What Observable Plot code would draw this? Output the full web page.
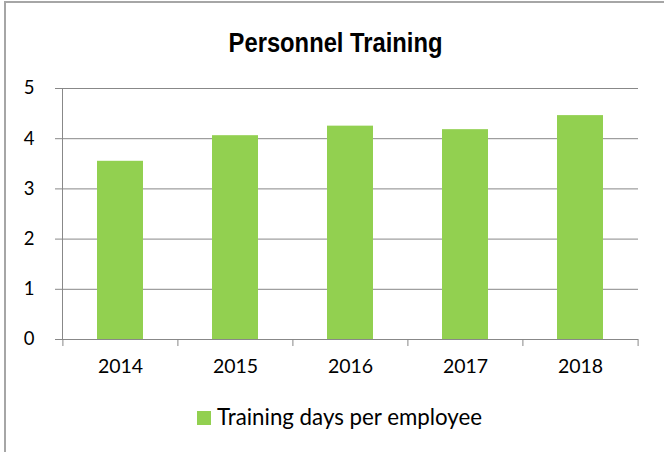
<!DOCTYPE html>
<html>
<head>
<meta charset="utf-8">
<script src="https://cdn.jsdelivr.net/npm/d3@7"></script>
<script src="https://cdn.jsdelivr.net/npm/@observablehq/plot@0.6"></script>
<style>
  html, body { margin: 0; padding: 0; background: #fff; }
  #wrap { position: relative; width: 664px; height: 452px; overflow: hidden; background: #fff; }
  #border { position: absolute; left: 4px; top: 1px; width: 700px; height: 500px;
            border-left: 2px solid #a6a6a6; border-top: 2px solid #a6a6a6; box-sizing: border-box; }
  #title { position: absolute; left: 0; width: 664px; top: 26px; text-align: center;
           font-family: "Liberation Sans", Arial, sans-serif; font-weight: bold; font-size: 27px;
           line-height: 34px; color: #000; }
  #title span { display: inline-block; transform: scaleX(0.88); transform-origin: center; margin-left: 8px; }
  #chart { position: absolute; left: 0; top: 0; }
  #legend { position: absolute; top: 402px; left: 197px; font-family: Lato, sans-serif;
            font-size: 22.3px; line-height: 30px; color: #000; white-space: nowrap; }
  #legend .sw { display: inline-block; width: 14px; height: 14px; background: #92D050;
                vertical-align: middle; margin-right: 6px; position: relative; top: -1px; }
</style>
</head>
<body>
<div id="wrap">
  <div id="border"></div>
  <div id="chart"></div>
  <div id="title"><span>Personnel Training</span></div>
  <div id="legend"><span class="sw"></span>Training days per employee</div>
</div>
<script>
const years = ["2014", "2015", "2016", "2017", "2018"];
const trainingDays = [3.55, 4.06, 4.25, 4.18, 4.46];
const yTicks = [0, 1, 2, 3, 4, 5];
const seriesName = "Training days per employee";

const data = years.map((y, i) => ({year: y, value: trainingDays[i]}));

const W = 664, H = 452;
const mL = 62, mR = 26, mT = 88, mB = 113;
const step = (W - mL - mR) / years.length;
const grey = "#888888";

const plot = Plot.plot({
  width: W,
  height: H,
  marginLeft: mL,
  marginRight: mR,
  marginTop: mT,
  marginBottom: mB,
  style: {fontFamily: "Lato, sans-serif", background: "transparent", color: "#000"},
  x: {domain: years, paddingInner: 0.6, paddingOuter: 0.3, align: 0.5},
  y: {domain: [0, 5]},
  marks: [
    Plot.gridY(yTicks, {stroke: grey, strokeOpacity: 1, strokeWidth: 1}),
    Plot.barY(data, {x: "year", y: "value", fill: "#92D050", title: d => `${seriesName}: ${d.value}`}),
    Plot.axisY(yTicks, {tickSize: 7, tickPadding: 21, stroke: grey, strokeOpacity: 1, fontSize: 18.5, fill: "#000", label: null, tickFormat: d => String(d)}),
    Plot.ruleY([0], {stroke: grey, strokeWidth: 1}),
    Plot.frame({anchor: "left", stroke: grey, strokeWidth: 1}),
    Plot.ruleX(years, {x: d => d, dx: -step / 2, y1: 0, y2: -0.14, stroke: grey, clip: false}),
    Plot.ruleX(years.slice(-1), {x: d => d, dx: step / 2, y1: 0, y2: -0.14, stroke: grey, clip: false}),
    Plot.axisX({tickSize: 0, tickPadding: 20, fontSize: 19.5, fill: "#000", label: null})
  ]
});
document.getElementById("chart").appendChild(plot);
</script>
</body>
</html>
